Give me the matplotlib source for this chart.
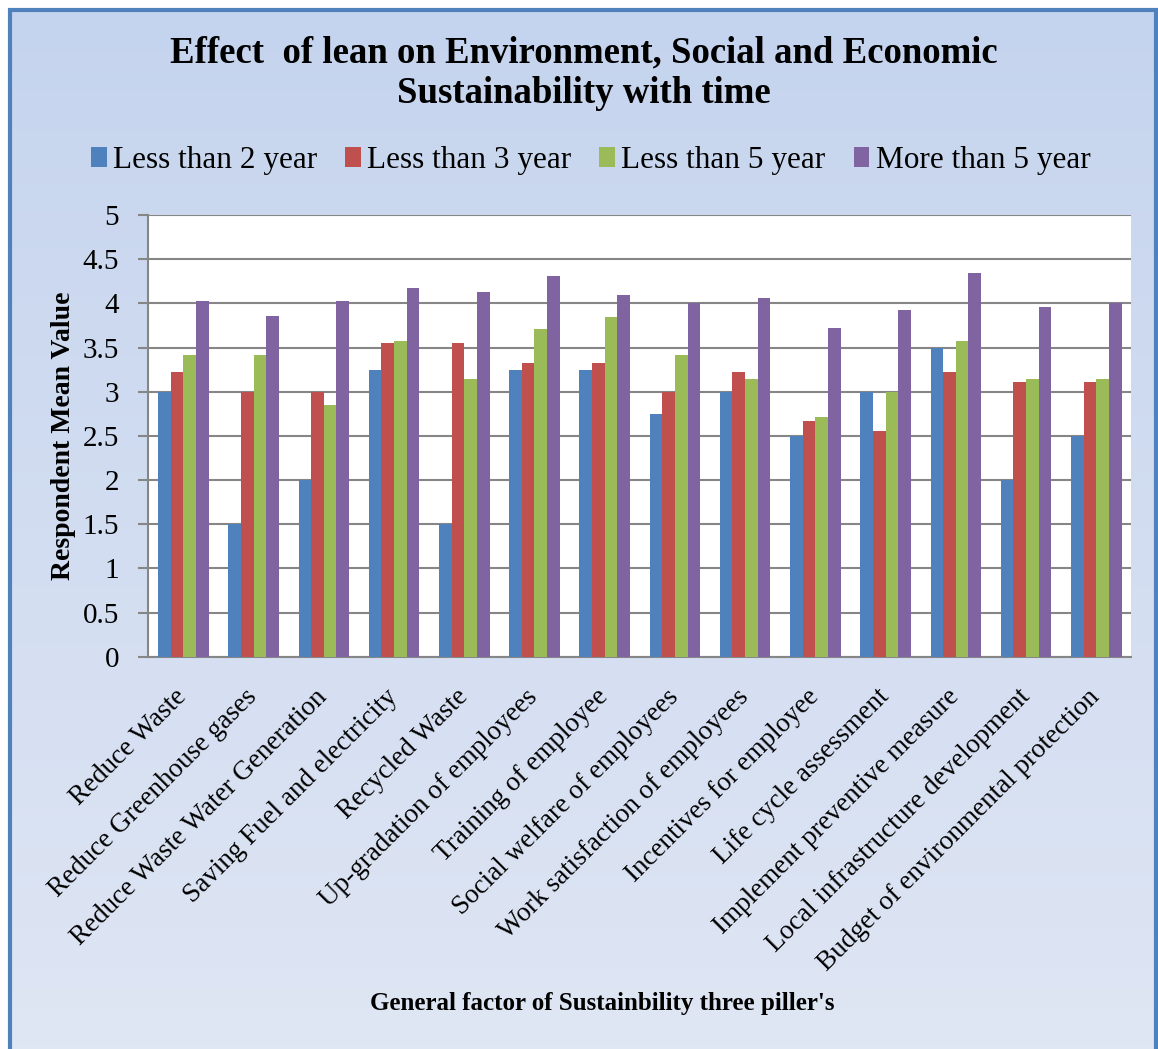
import numpy as np
import matplotlib.pyplot as plt
from matplotlib.patches import Rectangle
from matplotlib.colors import LinearSegmentedColormap
from matplotlib.transforms import ScaledTranslation

categories = [
    "Reduce Waste", "Reduce Greenhouse gases", "Reduce Waste Water Generation",
    "Saving Fuel and electricity", "Recycled Waste", "Up-gradation of employees",
    "Training of employee", "Social welfare of employees",
    "Work satisfaction of employees", "Incentives for employee",
    "Life cycle assessment", "Implement preventive measure",
    "Local infrastructure development", "Budget of environmental protection",
]
less_2 = [3.0, 1.5, 2.0, 3.25, 1.5, 3.25, 3.25, 2.75, 3.0, 2.5, 3.0, 3.5, 2.0, 2.5]
less_3 = [3.22, 3.0, 3.0, 3.55, 3.55, 3.33, 3.33, 3.0, 3.22, 2.67, 2.55, 3.22, 3.11, 3.11]
less_5 = [3.42, 3.42, 2.85, 3.57, 3.14, 3.71, 3.85, 3.42, 3.14, 2.71, 3.0, 3.57, 3.14, 3.14]
more_5 = [4.03, 3.86, 4.03, 4.17, 4.13, 4.31, 4.10, 4.0, 4.06, 3.72, 3.93, 4.34, 3.96, 4.0]

series = [less_2, less_3, less_5, more_5]
labels = ["Less than 2 year", "Less than 3 year", "Less than 5 year", "More than 5 year"]
colors = ["#4f81bd", "#c0504d", "#9bbb59", "#8064a2"]

plt.rcParams['font.family'] = ['Liberation Serif', 'DejaVu Serif']

fig = plt.figure(figsize=(11.58, 10.49), dpi=100)

# fond degrade + bordure
bg = fig.add_axes([0, 0, 1, 1], zorder=-10)
grad = np.linspace(0, 1, 256).reshape(-1, 1)
cmap = LinearSegmentedColormap.from_list("bg", ["#c5d4ee", "#dfe6f4"])
bg.imshow(grad, aspect='auto', cmap=cmap, extent=[0.008, 1.0, 0.0, 0.991])
bg.set_xlim(0, 1)
bg.set_ylim(0, 1)
bg.axis('off')
bg.add_patch(Rectangle((0.0085, -0.01), 0.9895, 1.0, fill=False, edgecolor="#4f81bd", linewidth=3))

ax = fig.add_axes([0.128, 0.374, 0.849, 0.421])
ax.set_facecolor("white")
x = np.arange(len(categories))
w = 0.18
for i, (vals, lab, col) in enumerate(zip(series, labels, colors)):
    ax.bar(x + (i - 1.5) * w, vals, width=w, color=col, label=lab, zorder=3)

ax.set_xlim(-0.5, len(categories) - 0.5)
ax.set_ylim(0, 5)
ax.set_yticks(np.arange(0, 5.01, 0.5))
ax.set_yticklabels(["0", "0.5", "1", "1.5", "2", "2.5", "3", "3.5", "4", "4.5", "5"], fontsize=21)
ax.yaxis.grid(True, color="#868686", linewidth=1.5, zorder=0)
ax.tick_params(axis='y', length=7, color="#868686", width=1.5, pad=14)
ax.tick_params(axis='x', length=0, pad=20)
ax.set_xticks(x)
ax.set_xticklabels(categories, rotation=45, ha='right', va='top', rotation_mode='anchor', fontsize=19.5)
shift = ScaledTranslation(-9 / 100, 0, fig.dpi_scale_trans)
for lbl in ax.get_xticklabels():
    lbl.set_transform(lbl.get_transform() + shift)
for s in ["top", "right"]:
    ax.spines[s].set_visible(False)
for s in ["left", "bottom"]:
    ax.spines[s].set_color("#868686")
    ax.spines[s].set_linewidth(1.5)

ax.set_ylabel("Respondent Mean Value", fontsize=20, fontweight='bold', labelpad=5)
fig.text(0.52, 0.043, "General factor of Sustainbility three piller's", fontsize=18,
         fontweight='bold', ha='center', va='center')
fig.text(0.504, 0.930, "Effect  of lean on Environment, Social and Economic\nSustainability with time",
         fontsize=26.5, fontweight='bold', ha='center', va='center', linespacing=1.2)

fig.legend(loc='center', bbox_to_anchor=(0.51, 0.847), ncol=4, frameon=False, fontsize=22.5,
           handlelength=0.5, handleheight=0.6, handletextpad=0.2, columnspacing=0.9)

fig.savefig("out.png", dpi=100)
